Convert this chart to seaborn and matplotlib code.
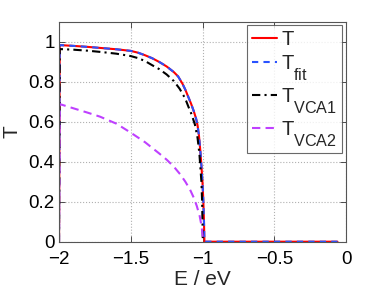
import matplotlib
matplotlib.use('Agg')
import matplotlib.pyplot as plt
import matplotlib._mathtext as mt
import seaborn as sns
import pandas as pd

sns.set_theme(style='white')
plt.rcParams['font.family'] = ['Liberation Sans', 'DejaVu Sans']
plt.rcParams['mathtext.fontset'] = 'custom'
plt.rcParams['mathtext.rm'] = 'Liberation Sans'
plt.rcParams['mathtext.it'] = 'Liberation Sans'
# matlab style subscripts: bigger and lower than the mathtext default
mt.SHRINK_FACTOR = 0.8
mt.FontConstantsBase.sub1 = 1.0

# values
E_t = [-2.0, -1.995, -1.9, -1.8, -1.7, -1.6, -1.5, -1.45, -1.4, -1.35, -1.3,
       -1.25, -1.2, -1.17, -1.14, -1.12, -1.1, -1.08, -1.06, -1.045, -1.035,
       -1.025, -1.015, -1.007, -1.0, -0.995, -0.99, -0.987, -0.5, -0.06]
T_t = [0.0, 0.983, 0.979, 0.974, 0.968, 0.962, 0.954, 0.945, 0.932, 0.917, 0.898,
       0.876, 0.848, 0.826, 0.79, 0.76, 0.725, 0.69, 0.65, 0.615, 0.582,
       0.53, 0.45, 0.37, 0.29, 0.21, 0.1, 0.0, 0.0, 0.0]
E_fit = [-2.0, -1.995, -1.9, -1.8, -1.7, -1.6, -1.5, -1.45, -1.4, -1.35, -1.3,
         -1.25, -1.2, -1.17, -1.14, -1.12, -1.1, -1.08, -1.06, -1.045, -1.035,
         -1.025, -1.015, -1.007, -1.0, -0.995, -0.99, -0.987, -0.5, -0.06]
T_fit = [0.0, 0.983, 0.979, 0.974, 0.968, 0.962, 0.954, 0.945, 0.932, 0.917, 0.898,
         0.876, 0.848, 0.826, 0.79, 0.76, 0.725, 0.69, 0.65, 0.615, 0.582,
         0.53, 0.45, 0.37, 0.29, 0.21, 0.1, 0.0, 0.0, 0.0]
E_vca1 = [-2.0, -1.995, -1.9, -1.8, -1.7, -1.6, -1.5, -1.45, -1.4, -1.35, -1.3,
          -1.25, -1.2, -1.16, -1.134, -1.115, -1.097, -1.075, -1.053, -1.035,
          -1.022, -1.008, -1.003, -0.998]
T_vca1 = [0.0, 0.963, 0.96, 0.955, 0.948, 0.94, 0.928, 0.918, 0.903, 0.882, 0.862,
          0.836, 0.803, 0.765, 0.733, 0.705, 0.672, 0.634, 0.585, 0.52,
          0.44, 0.3, 0.2, 0.0]
E_vca2 = [-2.0, -1.995, -1.9, -1.8, -1.714, -1.6, -1.5, -1.4, -1.3, -1.25, -1.2,
          -1.157, -1.12, -1.087, -1.06, -1.04, -1.02, -1.006, -0.995]
T_vca2 = [0.0, 0.688, 0.667, 0.645, 0.625, 0.59, 0.545, 0.497, 0.44, 0.41, 0.375,
          0.338, 0.3, 0.26, 0.218, 0.178, 0.128, 0.075, 0.0]

series = [
    (E_t, T_t, r'$\mathrm{T}$', '#ff0000', None),
    (E_fit, T_fit, r'$\mathrm{T}_{\mathrm{fit}}$', '#2a52ff', (3, 2.5)),
    (E_vca1, T_vca1, r'$\mathrm{T}_{\mathrm{VCA1}}$', 'black', (4, 2, 1, 2)),
    (E_vca2, T_vca2, r'$\mathrm{T}_{\mathrm{VCA2}}$', '#bf40ff', (4, 2.5)),
]

fig = plt.figure(figsize=(3.82, 2.88), dpi=100)
ax = fig.add_axes([0.1545, 0.1608, 0.7515, 0.7639])

for x, y, lab, col, dash in series:
    df = pd.DataFrame({'E': x, 'T': y})
    sns.lineplot(data=df, x='E', y='T', ax=ax, color=col, lw=1.5, sort=False,
                 estimator=None, label=lab)
    if dash is not None:
        ax.lines[-1].set_dashes(dash)

ax.set_xlim(-2, 0)
ax.set_ylim(0, 1.1)
ax.set_xticks([-2, -1.5, -1, -0.5, 0])
ax.set_xticklabels(['\u22122', '\u22121.5', '\u22121', '\u22120.5', '0'])
ax.set_yticks([0, 0.2, 0.4, 0.6, 0.8, 1])
ax.set_yticklabels(['0', '0.2', '0.4', '0.6', '0.8', '1'])
ax.tick_params(direction='in', length=4, width=0.6, labelsize=13.5, pad=3,
               top=True, right=True, bottom=True, left=True, colors='#333333',
               labelcolor='black')
ax.tick_params(axis='x', pad=7)
ax.grid(True, ls=':', color='#b0b0b0', lw=0.8)
for s in ax.spines.values():
    s.set_color('#555555')
    s.set_linewidth(0.8)
ax.set_xlabel('E / eV', fontsize=15, labelpad=1)
ax.set_ylabel('T', fontsize=15, labelpad=5)

leg = ax.legend(loc='upper right', bbox_to_anchor=(0.986, 0.985), fontsize=14.5,
                frameon=True, fancybox=False, edgecolor='#444444',
                handlelength=1.25, handletextpad=0.2, borderaxespad=0,
                labelspacing=0.2, borderpad=0.25)
leg.get_frame().set_linewidth(0.8)

fig.savefig('out.png', dpi=100)
